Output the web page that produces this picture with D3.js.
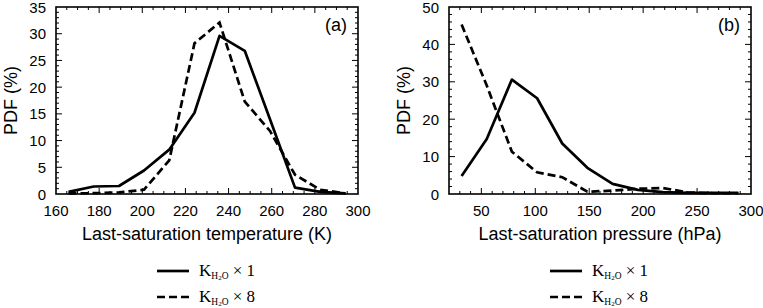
<!DOCTYPE html>
<html>
<head>
<meta charset="utf-8">
<script src="https://cdn.jsdelivr.net/npm/d3@7"></script>
<style>
  body { margin: 0; background: #fff; }
  svg { display: block; }
</style>
</head>
<body>
<svg id="chart" width="763" height="308"></svg>
<script>
// bin centres (12 bins each)
const tempBins = [165.8, 177.5, 189.2, 200.8, 212.5, 224.2, 235.8, 247.5, 259.2, 270.8, 282.5, 294.2];
const tempK1 = [0.4, 1.4, 1.5, 4.4, 8.3, 15.2, 29.6, 26.8, 14.0, 1.2, 0.4, 0.1];
const tempK8 = [0.1, 0.15, 0.3, 0.8, 6.3, 28.2, 32.1, 17.3, 11.8, 3.6, 0.8, 0.1];

const presBins = [31.7, 55, 78.3, 101.7, 125, 148.3, 171.7, 195, 218.3, 241.7, 265, 288.3];
const presK1 = [4.8, 14.7, 30.6, 25.6, 13.5, 7.0, 2.7, 1.1, 0.5, 0.3, 0.3, 0.3];
const presK8 = [45.3, 29.0, 11.3, 5.8, 4.5, 0.6, 0.9, 1.4, 1.6, 0.4, 0.2, 0.2];

const tempTicks = [160, 180, 200, 220, 240, 260, 280, 300];
const presTicks = [50, 100, 150, 200, 250, 300];

const svg = d3.select("#chart");
const sans = "Liberation Sans, Arial, sans-serif";

const drawPanel = (opts) => {
  const { left, right, top = 7, bottom = 194, xDomain, yMax, xMajor, xMinor, yMajor, yMinor,
          bins, k1, k8, xTitle, tag } = opts;

  const x = d3.scaleLinear().domain(xDomain).range([left, right]);
  const y = d3.scaleLinear().domain([0, yMax]).range([bottom, top]);
  const g = svg.append("g");

  // minor + major ticks on all four sides, pointing inward
  const xMin = d3.range(xDomain[0], xDomain[1] + 0.001, xMinor).filter(v => v > xDomain[0] && v < xDomain[1]);
  const yMin = d3.range(0, yMax + 0.001, yMinor).filter(v => v > 0 && v < yMax);
  const tk = g.append("g").attr("stroke", "#000").attr("stroke-width", 1);
  xMin.forEach(v => {
    const len = xMajor.includes(v) ? 6 : 3;
    tk.append("line").attr("x1", x(v)).attr("x2", x(v)).attr("y1", bottom).attr("y2", bottom - len);
    tk.append("line").attr("x1", x(v)).attr("x2", x(v)).attr("y1", top).attr("y2", top + len);
  });
  yMin.forEach(v => {
    const len = (v % yMajor === 0) ? 6 : 3;
    tk.append("line").attr("y1", y(v)).attr("y2", y(v)).attr("x1", left).attr("x2", left + len);
    tk.append("line").attr("y1", y(v)).attr("y2", y(v)).attr("x1", right).attr("x2", right - len);
  });

  // tick labels
  g.append("g")
    .attr("font-family", sans)
    .attr("font-size", 15)
    .attr("text-anchor", "middle")
    .selectAll("text").data(xMajor).join("text")
    .attr("x", d => x(d)).attr("y", 216).text(d => d);

  g.append("g")
    .attr("font-family", sans)
    .attr("font-size", 15)
    .attr("text-anchor", "end")
    .selectAll("text").data(d3.range(0, yMax + 0.001, yMajor)).join("text")
    .attr("x", left - 10).attr("y", d => y(d) + 5.5).text(d => d);

  // lines
  const line = d3.line().x(d => x(d[0])).y(d => y(d[1]));
  g.append("path").datum(d3.zip(bins, k1))
    .attr("d", line).attr("fill", "none").attr("stroke", "#000")
    .attr("stroke-width", 2.7).attr("stroke-linejoin", "round");
  g.append("path").datum(d3.zip(bins, k8))
    .attr("d", line).attr("fill", "none").attr("stroke", "#000")
    .attr("stroke-width", 2.7).attr("stroke-dasharray", "8,4");

  // frame
  g.append("rect").attr("x", left).attr("y", top).attr("width", right - left).attr("height", bottom - top)
    .attr("fill", "none").attr("stroke", "#000").attr("stroke-width", 1.6);

  // titles
  g.append("text").attr("x", (left + right) / 2).attr("y", 240)
    .attr("text-anchor", "middle").attr("font-family", sans)
    .attr("font-size", 18).text(xTitle);
  g.append("text").attr("transform", `translate(${left - 39},${(top + bottom) / 2}) rotate(-90)`)
    .attr("text-anchor", "middle").attr("font-family", sans)
    .attr("font-size", 18).text("PDF (%)");
  g.append("text").attr("x", right - 11).attr("y", 31)
    .attr("text-anchor", "end").attr("font-family", sans)
    .attr("font-size", 18).text(tag);

  // legend
  const lx = (left + right) / 2 - 50;
  [[271, null, "1"], [297, "8,4", "8"]].forEach(([ly, dash, n]) => {
    g.append("line").attr("x1", lx).attr("x2", lx + 32).attr("y1", ly).attr("y2", ly)
      .attr("stroke", "#000").attr("stroke-width", 2.7).attr("stroke-dasharray", dash);
    const t = g.append("text").attr("x", lx + 42).attr("y", ly + 5)
      .attr("font-family", "Liberation Serif, Times New Roman, serif").attr("font-size", 17);
    t.append("tspan").text("K");
    t.append("tspan").attr("font-size", 9.5).attr("dy", 2.5).text("H");
    t.append("tspan").attr("font-size", 7).attr("dy", 1).text("2");
    t.append("tspan").attr("font-size", 9.5).attr("dy", -1).text("O");
    t.append("tspan").attr("dy", -2.5).text(" \u00d7 " + n);
  });
};

drawPanel({
  left: 56, right: 358, xDomain: [160, 300], yMax: 35,
  xMajor: tempTicks, xMinor: 5, yMajor: 5, yMinor: 1,
  bins: tempBins, k1: tempK1, k8: tempK8,
  xTitle: "Last-saturation temperature (K)", tag: "(a)"
});

drawPanel({
  left: 449, right: 751, xDomain: [20, 300], yMax: 50,
  xMajor: presTicks, xMinor: 10, yMajor: 10, yMinor: 2,
  bins: presBins, k1: presK1, k8: presK8,
  xTitle: "Last-saturation pressure (hPa)", tag: "(b)"
});
</script>
</body>
</html>
